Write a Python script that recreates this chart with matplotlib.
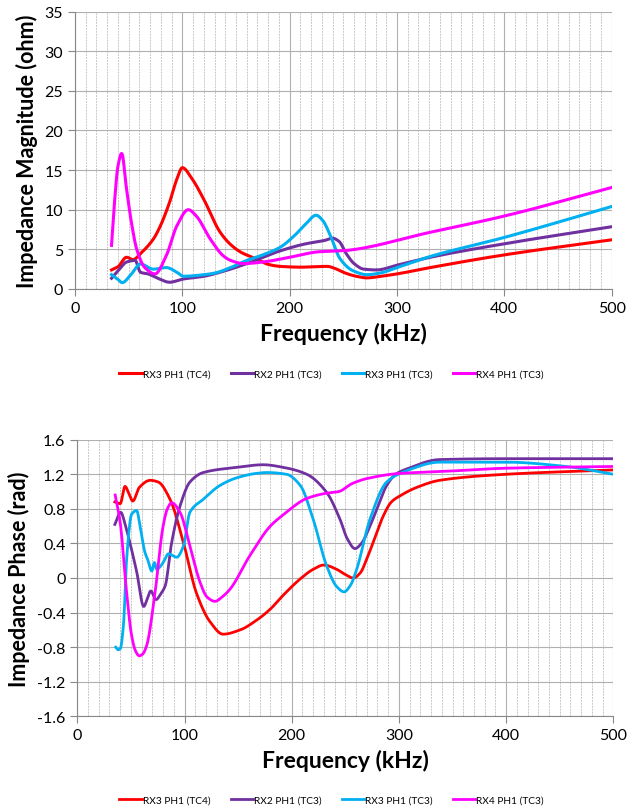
import numpy as np
import matplotlib
matplotlib.use("Agg")
import matplotlib.pyplot as plt
from matplotlib.ticker import MultipleLocator

plt.rcParams["font.family"] = ["Lato", "DejaVu Sans"]

RED, PURPLE, CYAN, MAGENTA = "#FF0000", "#7030A0", "#00B0F0", "#FF00FF"
LABELS = ["RX3 PH1 (TC4)", "RX2 PH1 (TC3)", "RX3 PH1 (TC3)", "RX4 PH1 (TC3)"]

# ---- impedance magnitude (ohm) vs frequency (kHz) ----
mag_red_f = [34, 40, 48, 54, 62, 73, 79, 88, 95, 100, 109, 120, 135, 145, 155, 169, 180, 191, 210, 235, 242, 250, 262, 272, 285, 300, 331, 400, 500]
mag_red_v = [2.4, 2.8, 4.0, 3.7, 4.6, 6.3, 7.8, 10.9, 13.9, 15.3, 13.9, 11.3, 7.2, 5.6, 4.6, 3.8, 3.1, 2.85, 2.75, 2.85, 2.6, 2.1, 1.6, 1.4, 1.6, 1.9, 2.7, 4.3, 6.2]

mag_pur_f = [34, 42, 48, 56, 61, 68, 78, 88, 101, 120, 140, 160, 191, 215, 232, 240, 246, 253, 260, 269, 281, 300, 331, 400, 500]
mag_pur_v = [1.35, 2.6, 3.4, 3.6, 2.1, 1.9, 1.3, 0.85, 1.26, 1.6, 2.3, 3.2, 4.8, 5.7, 6.1, 6.4, 6.0, 4.4, 3.2, 2.5, 2.4, 3.0, 4.0, 5.7, 7.85]

mag_cya_f = [34, 40, 44, 52, 61, 73, 85, 95, 101, 120, 130, 145, 160, 175, 191, 205, 215, 224.6, 231, 238, 247, 259, 272, 284, 300, 331, 400, 500]
mag_cya_v = [1.8, 1.2, 0.8, 1.8, 3.15, 2.5, 2.7, 2.1, 1.6, 1.8, 2.0, 2.7, 3.6, 4.3, 5.25, 6.8, 8.2, 9.3, 8.6, 6.7, 3.8, 2.3, 1.8, 2.0, 2.7, 4.1, 6.5, 10.4]

mag_mag_f = [34, 37, 40, 43.5, 48, 53, 57.5, 65, 74.5, 85, 95, 105.6, 113, 126, 138, 145, 157, 175, 200, 228, 247, 331, 400, 500]
mag_mag_v = [5.5, 11.3, 15.5, 17.1, 12.6, 8.0, 5.0, 2.7, 1.9, 4.2, 8.0, 10.0, 9.2, 6.3, 4.2, 3.6, 3.2, 3.4, 4.0, 4.7, 4.8, 7.15, 9.2, 12.8]

# ---- impedance phase (rad) vs frequency (kHz) ----
ph_red_f = [35, 40, 44.5, 48, 51.7, 58, 68, 75.5, 86.5, 99, 111, 124, 136, 152, 167, 180, 192, 208, 220, 230, 242, 250, 257.5, 264, 270, 278, 285.5, 293, 301, 317, 338, 400, 500]
ph_red_v = [0.88, 0.86, 1.06, 0.98, 0.89, 1.05, 1.13, 1.11, 0.91, 0.41, -0.17, -0.51, -0.65, -0.60, -0.49, -0.36, -0.2, -0.01, 0.1, 0.15, 0.10, 0.04, 0.0, 0.06, 0.22, 0.48, 0.72, 0.88, 0.95, 1.05, 1.13, 1.2, 1.25]

ph_pur_f = [35, 40.5, 45, 49, 55.4, 62, 65, 68.5, 73.4, 78, 82, 88, 96, 105, 117.5, 149, 173.5, 192, 214, 232.6, 245, 252, 259, 265, 273, 281, 288.6, 297, 307, 338, 400, 500]
ph_pur_v = [0.62, 0.76, 0.6, 0.41, 0.07, -0.33, -0.25, -0.15, -0.25, -0.18, -0.09, 0.41, 0.84, 1.11, 1.22, 1.28, 1.31, 1.28, 1.2, 0.99, 0.68, 0.45, 0.34, 0.4, 0.6, 0.85, 1.07, 1.2, 1.26, 1.37, 1.38, 1.38]

ph_cya_f = [35.8, 38, 40, 43, 46, 50.7, 55.4, 58.5, 63, 66, 69.4, 72, 74, 78.5, 81, 85, 92.7, 99, 105, 117.5, 133, 149, 167, 177, 195, 208, 220, 232.6, 242, 248.8, 255, 260.6, 273, 288.6, 307, 338, 400, 456, 500]
ph_cya_v = [-0.80, -0.83, -0.82, -0.55, 0.22, 0.74, 0.78, 0.6, 0.3, 0.2, 0.08, 0.18, 0.1, 0.15, 0.2, 0.28, 0.24, 0.37, 0.76, 0.91, 1.07, 1.16, 1.21, 1.22, 1.2, 1.07, 0.68, 0.14, -0.1, -0.16, -0.08, 0.10, 0.68, 1.11, 1.24, 1.34, 1.34, 1.29, 1.2]

ph_mag_f = [35.3, 40, 46, 50.7, 54.5, 57.8, 61, 64.7, 72.5, 80, 84, 88, 95.8, 105, 114.5, 121, 128.5, 135, 142.4, 161, 180, 192, 214, 232, 244, 256, 270, 301, 338, 400, 500]
ph_mag_v = [0.96, 0.64, -0.17, -0.67, -0.85, -0.90, -0.88, -0.78, -0.17, 0.6, 0.8, 0.87, 0.76, 0.37, -0.05, -0.22, -0.27, -0.22, -0.13, 0.26, 0.6, 0.73, 0.92, 0.98, 1.0, 1.09, 1.15, 1.21, 1.23, 1.27, 1.29]

series_mag = [(mag_red_f, mag_red_v, RED), (mag_pur_f, mag_pur_v, PURPLE),
              (mag_cya_f, mag_cya_v, CYAN), (mag_mag_f, mag_mag_v, MAGENTA)]
series_ph = [(ph_red_f, ph_red_v, RED), (ph_pur_f, ph_pur_v, PURPLE),
             (ph_cya_f, ph_cya_v, CYAN), (ph_mag_f, ph_mag_v, MAGENTA)]


def smooth(f, v):
    # PCHIP (Fritsch-Carlson) through the read-off points, no overshoot
    f = np.asarray(f, float); v = np.asarray(v, float)
    h = np.diff(f); delta = np.diff(v) / h
    d = np.zeros_like(v)
    for k in range(1, len(v) - 1):
        if delta[k-1] * delta[k] > 0:
            w1 = 2*h[k] + h[k-1]; w2 = h[k] + 2*h[k-1]
            d[k] = (w1 + w2) / (w1/delta[k-1] + w2/delta[k])
    d[0], d[-1] = delta[0], delta[-1]
    xs = np.linspace(f[0], f[-1], 800)
    i = np.clip(np.searchsorted(f, xs) - 1, 0, len(f) - 2)
    t = (xs - f[i]) / h[i]
    ys = ((2*t**3 - 3*t**2 + 1)*v[i] + (t**3 - 2*t**2 + t)*h[i]*d[i]
          + (-2*t**3 + 3*t**2)*v[i+1] + (t**3 - t**2)*h[i]*d[i+1])
    return xs, ys


def style(ax, ymin, ymax, ystep, ylabel):
    ax.set_xlim(0, 500)
    ax.set_ylim(ymin, ymax)
    ax.xaxis.set_major_locator(MultipleLocator(100))
    ax.xaxis.set_minor_locator(MultipleLocator(10))
    ax.yaxis.set_major_locator(MultipleLocator(ystep))
    ax.grid(which="major", color="#B0B0B0", lw=0.8)
    ax.grid(which="minor", axis="x", color="#C8C8C8", lw=0.7, ls=(0, (2, 1)))
    ax.set_axisbelow(True)
    for s in ("top", "right"):
        ax.spines[s].set_visible(False)
    for s in ("left", "bottom"):
        ax.spines[s].set_color("#888888")
    ax.tick_params(which="major", color="#888888", length=5, labelsize=11.5)
    ax.tick_params(which="minor", length=0)
    ax.set_xlabel("Frequency (kHz)", fontsize=16.5, fontweight="bold", labelpad=5)
    ax.set_ylabel(ylabel, fontsize=15.5, fontweight="bold", labelpad=5)


fig = plt.figure(figsize=(6.38, 8.12), dpi=100)
ax1 = fig.add_axes([0.1176, 0.6429, 0.8411, 0.3417])
ax2 = fig.add_axes([0.1212, 0.1166, 0.8401, 0.3407])

for (f, v, c), lab in zip(series_mag, LABELS):
    xs, ys = smooth(f, v)
    ax1.plot(xs, ys, color=c, lw=2.2, label=lab)
for (f, v, c), lab in zip(series_ph, LABELS):
    xs, ys = smooth(f, v)
    ax2.plot(xs, ys, color=c, lw=2.0, label=lab)

style(ax1, 0, 35, 5, "Impedance Magnitude (ohm)")
style(ax2, -1.6, 1.6, 0.4, "Impedance Phase (rad)")
ax2.yaxis.set_major_formatter(plt.FuncFormatter(lambda y, _: "0" if abs(y) < 1e-9 else f"{y:g}"))

for ax, y in ((ax1, 0.538), (ax2, 0.014)):
    fig.legend(*ax.get_legend_handles_labels(), loc="center", bbox_to_anchor=(0.52, y),
               ncol=4, frameon=False, fontsize=7.3, handlelength=2.2, handletextpad=0.1,
               columnspacing=2.0)

fig.savefig("out.png", dpi=100)
